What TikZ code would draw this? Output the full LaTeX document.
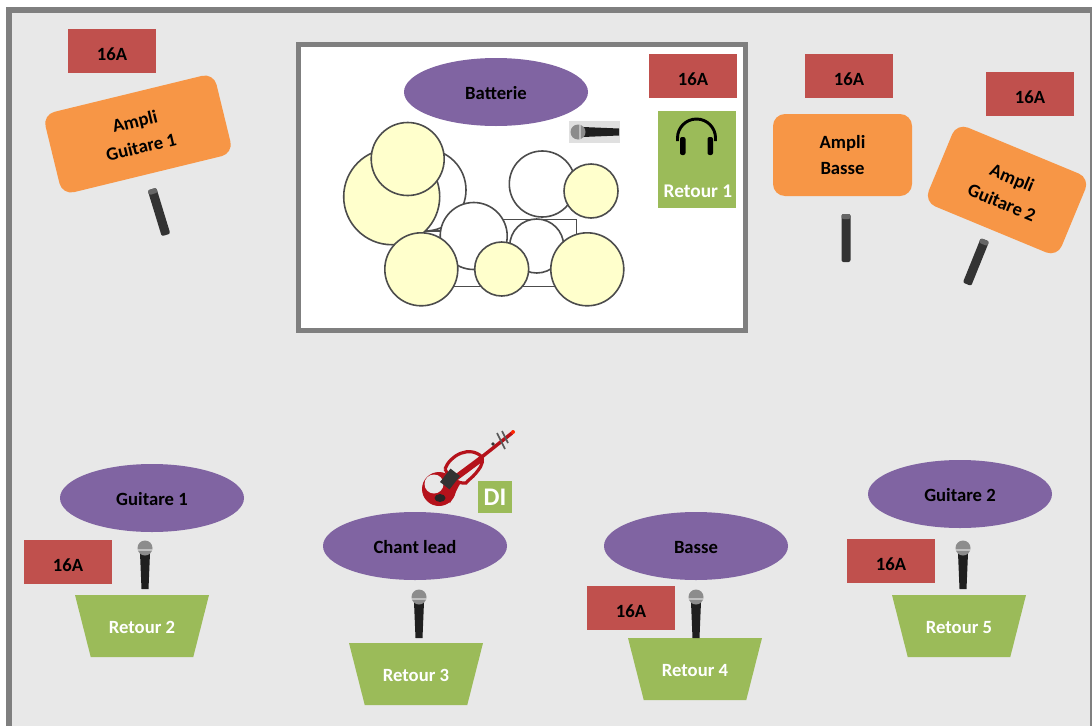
\documentclass[tikz,border=0pt]{standalone}
\usepackage{fontspec}
\setmainfont{Carlito}
\usetikzlibrary{shapes.geometric}
\definecolor{scene}{HTML}{E8E8E8}
\definecolor{framegray}{HTML}{7F7F7F}
\definecolor{plum}{HTML}{8064A2}
\definecolor{brick}{HTML}{C0504D}
\definecolor{amber}{HTML}{F79646}
\definecolor{moss}{HTML}{9BBB59}
\definecolor{cream}{HTML}{FFFFCC}
\definecolor{violinred}{HTML}{B5121B}
\tikzstyle{musician} = [ellipse, minimum width=138pt, minimum height=51pt, inner sep=0pt, fill=plum, text=black, text height=10.5pt, text depth=0pt, font=\bfseries\fontsize{14}{16}\selectfont]
\tikzstyle{power} = [rectangle, minimum width=66pt, minimum height=33pt, inner sep=0pt, fill=brick, text=black, text height=14pt, text depth=0pt, font=\bfseries\fontsize{14}{16}\selectfont]
\tikzstyle{ampli} = [rectangle, rounded corners=9pt, inner sep=0pt, fill=amber, align=center, text=black, font=\bfseries\fontsize{14}{20}\selectfont]
\tikzstyle{wedge} = [trapezium, trapezium stretches body=true, shape border rotate=180, trapezium left angle=43, trapezium right angle=43, minimum width=100.5pt, minimum height=46.5pt, inner sep=0pt, fill=moss, text=white, text height=11pt, text depth=0pt, font=\bfseries\fontsize{14}{16}\selectfont]
\tikzstyle{drumskin} = [circle, inner sep=0pt, draw=black!70, line width=1.2pt, fill=white]
\tikzstyle{cymbal} = [drumskin, fill=cream]
\tikzset{
  handmic/.pic={
    \fill[black!88] (-5,-4) -- (5,-4) -- (3.5,32) -- (-3.5,32) -- cycle;
    \fill[black!45] (0,-9) circle (7.5);
    \fill[black!25] (-7,-8) rectangle (7,-6.5);
  },
  stickmic/.pic={
    \fill[black!80, rounded corners=1.5pt] (-4.5,-24) rectangle (4.5,24);
    \fill[black!60, rounded corners=1.5pt] (-4.5,-24) rectangle (4.5,-19);
  }
}
\begin{document}
\begin{tikzpicture}[x=0.75pt,y=-0.75pt]
\useasboundingbox (0,0) rectangle (1092,725);
\fill[white] (0,0) rectangle (1092,725);
\fill[scene, draw=framegray, line width=4.25pt] (9,10) -- (1093,10) -- (1093,740) -- (9,740) -- cycle;

\node (stagebox) [rectangle, minimum width=335pt, minimum height=215pt, inner sep=0pt, fill=white, draw=framegray, line width=3.75pt] at (522.3,187.5) {};

\draw[black!70, line width=1.2pt] (503,219.5) -| (576.5,245);
\draw[black!70, line width=1.2pt] (425,231) -- (442,231);
\draw[black!70, line width=1.2pt] (450,286.5) -- (560,286.5);
\node (floortom) [drumskin, minimum width=61.5pt] at (425,190) {};
\node (crash) [cymbal, minimum width=72pt] at (391.7,196.7) {};
\node (ride) [cymbal, minimum width=54.75pt] at (407.7,159) {};
\node (tomhigh) [drumskin, minimum width=49.5pt] at (542.3,184) {};
\node (hihat) [cymbal, minimum width=40.5pt] at (591,191) {};
\node (tomleft) [drumskin, minimum width=50.25pt] at (473.7,236) {};
\node (tomright) [drumskin, minimum width=40.5pt] at (536.7,246) {};
\node (cymballeft) [cymbal, minimum width=54.75pt] at (421.3,269.3) {};
\node (snare) [cymbal, minimum width=40.5pt] at (501.7,269) {};
\node (cymbalright) [cymbal, minimum width=54.75pt] at (587.3,269.3) {};

\node (batterie) [musician] at (496,92) {Batterie};
\node (guitareun) [musician] at (152,498) {Guitare 1};
\node (chant) [musician] at (415,546) {Chant lead};
\node (basse) [musician] at (696,546) {Basse};
\node (guitaredeux) [musician] at (960,494) {Guitare 2};

\node (powera) [power] at (112,51) {16A};
\node (powerb) [power] at (693,76) {16A};
\node (powerc) [power] at (849,76) {16A};
\node (powerd) [power] at (1030,94) {16A};
\node (powere) [power] at (68,562) {16A};
\node (powerf) [power] at (631,608) {16A};
\node (powerg) [power] at (891,561) {16A};

\node (ampun) [ampli, minimum width=132pt, minimum height=62pt, rotate=13.7] at (138,134) {Ampli\\Guitare 1};
\node (ampbasse) [ampli, minimum width=104.25pt, minimum height=61.5pt] at (842.5,155) {Ampli\\Basse};
\node (ampdeux) [ampli, minimum width=108pt, minimum height=64pt, rotate=-22.5] at (1007,190) {Ampli\\Guitare 2};

\node (retourun) [rectangle, minimum width=58.5pt, minimum height=72.75pt, inner sep=0pt, fill=moss] at (697,159.5) {};
\node (retourunlabel) [text=white, font=\bfseries\fontsize{14.5}{16}\selectfont] at (698,191) {Retour 1};
\draw[black, line width=2.2pt] (677.5,141) -- (677.5,138) arc[start angle=180, end angle=360, x radius=19, y radius=19] -- (715.5,141);
\fill[black, rounded corners=1.5pt] (680,137) rectangle (685.5,155);
\fill[black, rounded corners=1.5pt] (707.5,137) rectangle (713,155);

\node (retourdeux) [wedge] at (142,626) {Retour 2};
\node (retourtrois) [wedge] at (416,674) {Retour 3};
\node (retourquatre) [wedge] at (695,669) {Retour 4};
\node (retourcinq) [wedge] at (959,626) {Retour 5};

\pic at (145,557) {handmic};
\pic at (419,606) {handmic};
\pic at (696,606) {handmic};
\pic at (963,557) {handmic};
\pic at (846,238) {stickmic};
\pic[rotate=17] at (159,212) {stickmic};
\pic[rotate=-22] at (976,262) {stickmic};

\fill[black!12] (569,121) rectangle (620,143);
\pic[rotate=90] at (587,132) {handmic};

\fill[violinred] (439,489) circle (17);
\fill[scene] (434,484) ellipse (9.5 and 9.5);
\fill[violinred] (444,495) -- (455,474) -- (462,480) -- (450,503) -- cycle;
\draw[violinred, line width=2.4pt, fill=scene] (445,469) .. controls (450,455) and (470,445) .. (482,457) .. controls (484,465) and (478,470) .. (476,473) .. controls (472,478) and (468,480) .. (466,483) .. controls (458,484) and (449,478) .. (445,469);
\draw[violinred, line width=4.5pt] (450,482) -- (481,459);
\draw[violinred, line width=2.6pt] (478,460) -- (512,433);
\fill[black!80, rotate around={-38:(450,479)}] (444,470.5) rectangle (456,487.5);
\fill[black!85] (440,498) ellipse (5.5 and 4);
\fill[black!80] (493,444) circle (1.8);
\draw[black!65, line width=1.2pt] (497,433) -- (505,449);
\draw[black!65, line width=1.2pt] (502,431) -- (508,443);
\fill[red!70!orange] (513,432) circle (2);

\node (dibox) [rectangle, minimum width=25.5pt, minimum height=24pt, inner sep=0pt, fill=moss, text=white, font=\bfseries\fontsize{19}{20}\selectfont] at (495,497) {DI};
\end{tikzpicture}
\end{document}
